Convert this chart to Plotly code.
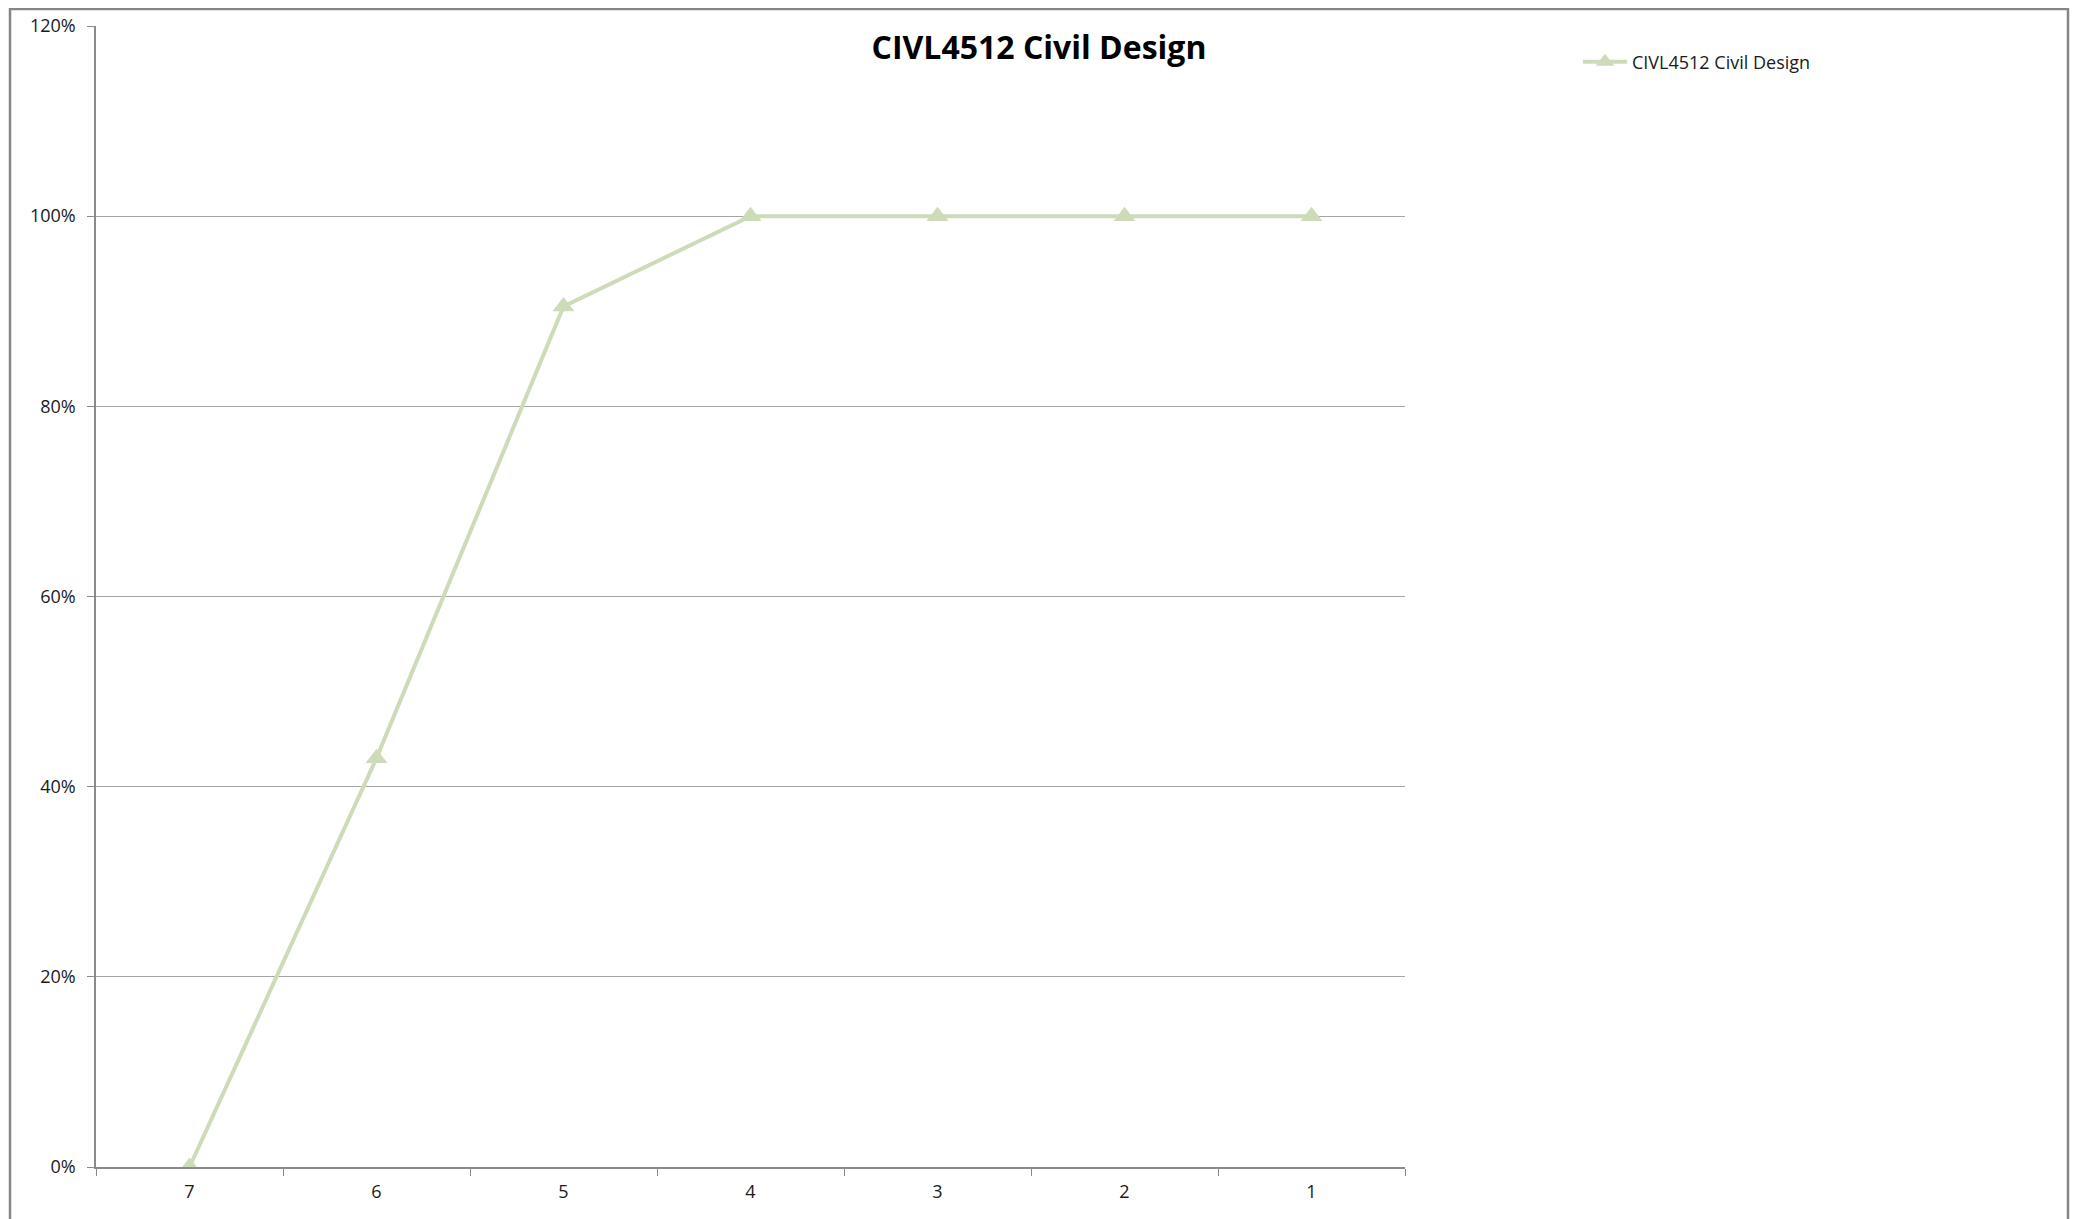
import plotly.graph_objects as go

categories = ["7", "6", "5", "4", "3", "2", "1"]
values = [0.0, 0.43, 0.905, 1.0, 1.0, 1.0, 1.0]
series_name = "CIVL4512 Civil Design"
title_text = "CIVL4512 Civil Design"
y_ticks = [0, 0.2, 0.4, 0.6, 0.8, 1.0, 1.2]
y_tick_labels = ["0%", "20%", "40%", "60%", "80%", "100%", "120%"]

W, H = 2078, 1219
# page has 8px body margin; figure coords = page coords - 8
L, T = 88, 18
R = W - 1397
B = H - 1159
pw, ph = W - L - R, H - T - B

line_color = "#cddbb9"
font_family = "'Open Sans', sans-serif"

fig = go.Figure()
fig.add_trace(go.Scatter(
    x=categories, y=values, name=series_name, mode="lines+markers",
    line=dict(color=line_color, width=4),
    marker=dict(symbol="triangle-up", size=19, color=line_color),
    showlegend=True,
))

fig.update_layout(
    width=W, height=H,
    margin=dict(l=L, r=R, t=T, b=B, pad=0, autoexpand=False),
    paper_bgcolor="white", plot_bgcolor="white",
    font=dict(family=font_family, size=18, color="#1a1a1a"),
    title=dict(text="<b>" + title_text + "</b>", xref="paper", x=(1031 - L) / pw,
               xanchor="center", yref="container", y=1 - 40 / H, yanchor="middle",
               font=dict(size=32, color="#000000", family=font_family)),
    legend=dict(x=(1570 - L) / pw, xanchor="left", y=(1159 - 54) / ph, yanchor="middle",
                font=dict(size=18, color="#1a1a1a"), bgcolor="rgba(0,0,0,0)",
                itemwidth=44),
    showlegend=True,
)

fig.update_xaxes(
    type="category", range=[-0.5, 6.5], automargin=False,
    showline=True, linecolor="#8a8a8a", linewidth=1.5,
    ticks="outside", tickson="boundaries", ticklen=7, tickcolor="#8a8a8a", tickwidth=1,
    showgrid=False, zeroline=False, tickfont=dict(size=18, color="#1a1a1a"),
    ticklabelstandoff=8,
)
fig.update_yaxes(
    range=[0, 1.2], tickvals=y_ticks, ticktext=y_tick_labels, automargin=False,
    showline=True, linecolor="#8a8a8a", linewidth=1.5,
    ticks="outside", ticklen=7, tickcolor="#8a8a8a",
    showgrid=True, gridcolor="#a6a6a6", gridwidth=1.2, zeroline=False,
    tickfont=dict(size=18, color="#1a1a1a"), ticklabelstandoff=8,
)

# outer chart border
fig.add_shape(type="rect", xref="paper", yref="paper",
              x0=(2 - L) / pw, x1=(2060 - L) / pw,
              y0=-0.2, y1=(1159 - 1) / ph,
              line=dict(color="#868686", width=2.5), fillcolor="rgba(0,0,0,0)", layer="below")

fig.write_html("out.html")
